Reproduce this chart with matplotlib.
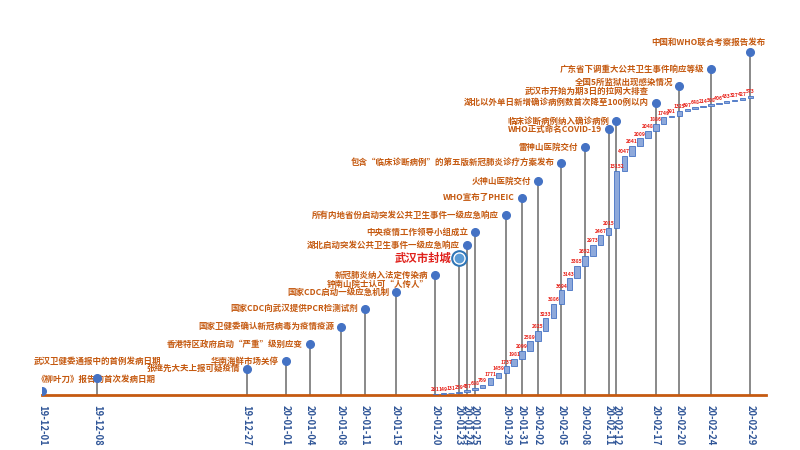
import numpy as np
import pandas as pd
import matplotlib
matplotlib.use('Agg')
import matplotlib.pyplot as plt
import matplotlib.dates as mdates

plt.rcParams['font.family'] = ['Noto Sans CJK SC', 'DejaVu Sans']

# events on the timeline
event_dates = ['2019-12-01', '2019-12-08', '2019-12-27', '2020-01-01', '2020-01-04',
               '2020-01-08', '2020-01-11', '2020-01-15', '2020-01-20', '2020-01-20',
               '2020-01-23', '2020-01-24', '2020-01-25', '2020-01-29', '2020-01-31',
               '2020-02-02', '2020-02-05', '2020-02-08', '2020-02-11', '2020-02-12',
               '2020-02-17', '2020-02-17', '2020-02-20', '2020-02-24', '2020-02-29']
event_texts = ['《柳叶刀》报告的首次发病日期',
               '武汉卫健委通报中的首例发病日期',
               '张继先大夫上报可疑疫情',
               '华南海鲜市场关停',
               '香港特区政府启动“严重”级别应变',
               '国家卫健委确认新冠病毒为疫情疫源',
               '国家CDC向武汉提供PCR检测试剂',
               '国家CDC启动一级应急机制',
               '钟南山院士认可“人传人”',
               '新冠肺炎纳入法定传染病',
               '武汉市封城',
               '湖北启动突发公共卫生事件一级应急响应',
               '中央疫情工作领导小组成立',
               '所有内地省份启动突发公共卫生事件一级应急响应',
               'WHO宣布了PHEIC',
               '火神山医院交付',
               '包含“临床诊断病例”的第五版新冠肺炎诊疗方案发布',
               '雷神山医院交付',
               'WHO正式命名COVID-19',
               '临床诊断病例纳入确诊病例',
               '湖北以外单日新增确诊病例数首次降至100例以内',
               '武汉市开始为期3日的拉网大排查',
               '全国5所监狱出现感染情况',
               '广东省下调重大公共卫生事件响应等级',
               '中国和WHO联合考察报告发布']
event_levels = [1000, 4500, 7000, 9000, 13600, 18200, 23000, 27500, 29600, 32000,
                36600, 40000, 43500, 48000, 52600, 57100, 62000, 66200, 71000, 73100,
                78000, 81100, 82500, 87000, 91600]

# daily increase of confirmed cases (waterfall)
bar_start = '2020-01-20'
daily_new = [291, 149, 131, 259, 457, 688, 769, 1771, 1459, 1737, 1981, 2099, 2589,
             2825, 3233, 3886, 3694, 3143, 3385, 2652, 2973, 2467, 2015, 15152, 4047,
             2641, 2009, 2048, 1886, 1749, 391, 1325, 397, 648, 214, 508, 406, 433,
             327, 427, 573]

fig = plt.figure(figsize=(8, 4.5), dpi=100)
ax = fig.add_axes([0.0525, 0.1222, 0.905, 0.8325])

x_ev = mdates.date2num(pd.to_datetime(event_dates))
x_bar = mdates.date2num(pd.date_range(bar_start, periods=len(daily_new)))
tops = np.cumsum(daily_new)
bottoms = tops - np.array(daily_new)

ax.bar(x_bar, daily_new, bottom=bottoms, width=0.7, color='#8EA9DB',
       edgecolor='#4472C4', linewidth=0.6, zorder=3)
for x, t, v in zip(x_bar, tops, daily_new):
    ax.annotate(str(v), (x, t), xytext=(0, 1.5), textcoords='offset pixels',
                ha='center', va='bottom', fontsize=3.6, color='#E8261E',
                fontweight='bold', zorder=4)

no_marker = {8, 21}
lockdown = 10
label_offset = {0: (-5, 12, 'left'), 1: (0, 17, 'center'), 22: (-6, 4, 'right'),
                24: (15, 9, 'right'), 10: (-8, 0, 'right')}

for i, (x, lv, txt) in enumerate(zip(x_ev, event_levels, event_texts)):
    if i not in no_marker:
        ax.vlines(x, 0, lv, color='#808080', lw=1.3, zorder=1)
        if i == lockdown:
            ax.plot(x, lv, 'o', ms=11, color='#2E75B6', zorder=6)
            ax.plot(x, lv, 'o', ms=8, color='white', zorder=6)
            ax.plot(x, lv, 'o', ms=6, color='#5B9BD5', zorder=6)
        else:
            ax.plot(x, lv, 'o', ms=5.5, color='#4472C4', zorder=6)
    dx, dy, ha = label_offset.get(i, (-7, 0, 'right'))
    if i == lockdown:
        ax.annotate(txt, (x, lv), xytext=(dx, dy), textcoords='offset pixels',
                    ha=ha, va='center', fontsize=8.2, color='#E0201B',
                    fontweight='bold')
    else:
        ax.annotate(txt, (x, lv), xytext=(dx, dy), textcoords='offset pixels',
                    ha=ha, va='center', fontsize=6.1, color='#C55A11',
                    fontweight='bold')

tick_dates = sorted(set(x_ev))
ax.set_xticks(tick_dates)
ax.xaxis.set_major_formatter(mdates.DateFormatter('%y-%m-%d'))
ax.tick_params(axis='x', length=0, pad=7, labelsize=6.8, labelcolor='#2F5597',
               rotation=-90)
for lab in ax.get_xticklabels():
    lab.set_fontweight('bold')

ax.set_xlim(mdates.date2num(pd.Timestamp('2019-12-01')),
            mdates.date2num(pd.Timestamp('2020-03-02')))
ax.set_ylim(0, 100000)
ax.set_yticks([])
for s in ['top', 'left', 'right']:
    ax.spines[s].set_visible(False)
ax.spines['bottom'].set_color('#C55A11')
ax.spines['bottom'].set_linewidth(2)
ax.spines['bottom'].set_zorder(2)

fig.savefig('out.png', dpi=100)
